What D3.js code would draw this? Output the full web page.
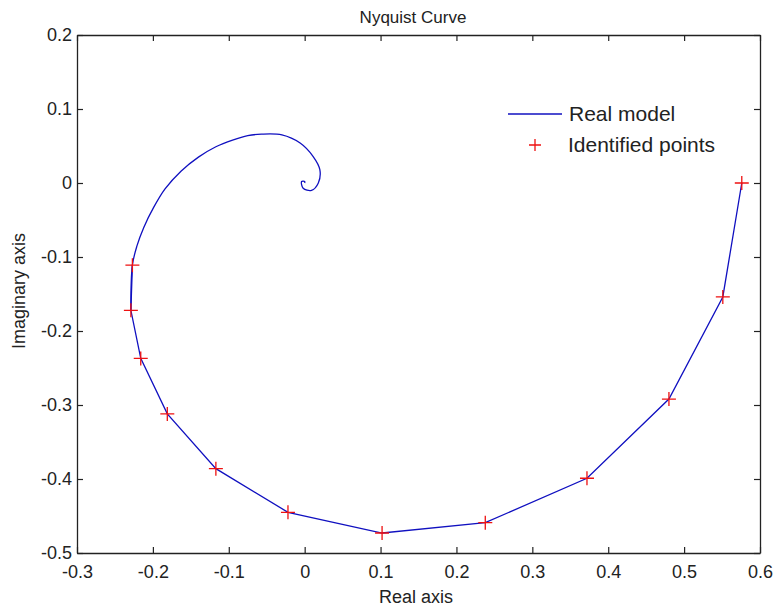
<!DOCTYPE html>
<html>
<head>
<meta charset="utf-8">
<script src="https://cdn.jsdelivr.net/npm/d3@7"></script>
<style>
  body { margin: 0; background: #fff; }
  svg text { font-family: "Liberation Sans", Arial, sans-serif; fill: #222; }
</style>
</head>
<body>
<div id="chart"></div>
<script>
// real model curve (real, imag), from w = 0 towards the origin
var modelRe = [0.576, 0.551, 0.480, 0.372, 0.238, 0.102, -0.022, -0.117, -0.181, -0.216, -0.229, -0.227,
               -0.221, -0.212, -0.199, -0.184, -0.163, -0.140, -0.117, -0.095, -0.075, -0.057, -0.030,
               -0.006, 0.011, 0.020, 0.018, 0.009, -0.002, -0.004, 0.000, 0.000];
var modelIm = [0.000, -0.154, -0.292, -0.399, -0.459, -0.473, -0.445, -0.386, -0.312, -0.237, -0.172, -0.111,
               -0.085, -0.060, -0.033, -0.008, 0.016, 0.035, 0.049, 0.058, 0.064, 0.066, 0.065,
               0.054, 0.036, 0.018, 0.000, -0.010, -0.007, 0.002, 0.002, 0.000];

// identified points
var pointsRe = [0.576, 0.551, 0.480, 0.372, 0.238, 0.102, -0.022, -0.117, -0.181, -0.216, -0.229, -0.227];
var pointsIm = [0.000, -0.154, -0.292, -0.399, -0.459, -0.473, -0.445, -0.386, -0.312, -0.237, -0.172, -0.111];

var xTicks = [-0.3, -0.2, -0.1, 0, 0.1, 0.2, 0.3, 0.4, 0.5, 0.6];
var yTicks = [-0.5, -0.4, -0.3, -0.2, -0.1, 0, 0.1, 0.2];
var seriesNames = ["Real model", "Identified points"];

var W = 774, H = 609;
var margin = {top: 35, right: 14, bottom: 56, left: 77};
var width = W - margin.left - margin.right,
    height = H - margin.top - margin.bottom;

var svg = d3.select("#chart").append("svg")
    .attr("width", W)
    .attr("height", H);

var g = svg.append("g")
    .attr("transform", "translate(" + margin.left + "," + margin.top + ")");

var x = d3.scaleLinear().domain([-0.3, 0.6]).range([0, width]);
var y = d3.scaleLinear().domain([-0.5, 0.2]).range([height, 0]);

// plain hyphen for the minus sign, like the original
function fmt(d) { return d === 0 ? "0" : d.toFixed(1); }

// axes, ticks pointing inwards, mirrored on top / right
var ax = g.append("g").attr("transform", "translate(0," + height + ")")
    .call(d3.axisBottom(x).tickValues(xTicks).tickSizeInner(-6).tickSizeOuter(0).tickPadding(12).tickFormat(fmt));
var ay = g.append("g")
    .call(d3.axisLeft(y).tickValues(yTicks).tickSizeInner(-6).tickSizeOuter(0).tickPadding(5).tickFormat(fmt));
var axTop = g.append("g")
    .call(d3.axisTop(x).tickValues(xTicks).tickSizeInner(-6).tickSizeOuter(0).tickFormat(""));
var ayRight = g.append("g").attr("transform", "translate(" + width + ",0)")
    .call(d3.axisRight(y).tickValues(yTicks).tickSizeInner(-6).tickSizeOuter(0).tickFormat(""));

[ax, ay, axTop, ayRight].forEach(function(a) {
    a.select(".domain").attr("stroke", "#222").attr("stroke-width", 1.3);
    a.selectAll(".tick line").attr("stroke", "#222").attr("stroke-width", 1.2);
    a.selectAll(".tick text").attr("font-size", 18).attr("fill", "#222")
        .attr("font-family", "Liberation Sans, Arial, sans-serif");
});

// model line: straight pieces through the identified points, smooth spiral after
var line = d3.line()
    .x(function(d) { return x(d[0]); })
    .y(function(d) { return y(d[1]); });
var smooth = d3.line()
    .x(function(d) { return x(d[0]); })
    .y(function(d) { return y(d[1]); })
    .curve(d3.curveCatmullRom.alpha(0.5));

var model = modelRe.map(function(d, i) { return [d, modelIm[i]]; });
var nPts = pointsRe.length;
g.append("path")
    .datum(model.slice(0, nPts))
    .attr("d", line)
    .attr("fill", "none")
    .attr("stroke", "#1010c0")
    .attr("stroke-width", 1.3);
g.append("path")
    .datum(model.slice(nPts - 2))
    .attr("d", smooth)
    .attr("fill", "none")
    .attr("stroke", "#1010c0")
    .attr("stroke-width", 1.3);

// identified points as "+" markers
var pts = pointsRe.map(function(d, i) { return [d, pointsIm[i]]; });
g.selectAll(".pt")
    .data(pts)
    .enter().append("path")
    .attr("class", "pt")
    .attr("d", "M-7,0H7M0,-7V7")
    .attr("transform", function(d) { return "translate(" + x(d[0]) + "," + y(d[1]) + ")"; })
    .attr("stroke", "#ee1111")
    .attr("stroke-width", 1.3)
    .attr("fill", "none");

// legend
var lg = svg.append("g");
lg.append("line")
    .attr("x1", 508).attr("x2", 562).attr("y1", 114).attr("y2", 114)
    .attr("stroke", "#1010c0").attr("stroke-width", 1.3);
lg.append("text").attr("x", 569).attr("y", 121).attr("font-size", 21).text(seriesNames[0]);
lg.append("path")
    .attr("d", "M-6,0H6M0,-6V6")
    .attr("transform", "translate(535,145)")
    .attr("stroke", "#ee1111").attr("stroke-width", 1.3).attr("fill", "none");
lg.append("text").attr("x", 568).attr("y", 152).attr("font-size", 21).text(seriesNames[1]);

// titles
svg.append("text")
    .attr("x", 413).attr("y", 23)
    .attr("text-anchor", "middle")
    .attr("font-size", 17)
    .text("Nyquist Curve");

svg.append("text")
    .attr("x", 416).attr("y", 603)
    .attr("text-anchor", "middle")
    .attr("font-size", 18)
    .text("Real axis");

svg.append("text")
    .attr("transform", "translate(25,291) rotate(-90)")
    .attr("text-anchor", "middle")
    .attr("font-size", 18)
    .text("Imaginary axis");
</script>
</body>
</html>
